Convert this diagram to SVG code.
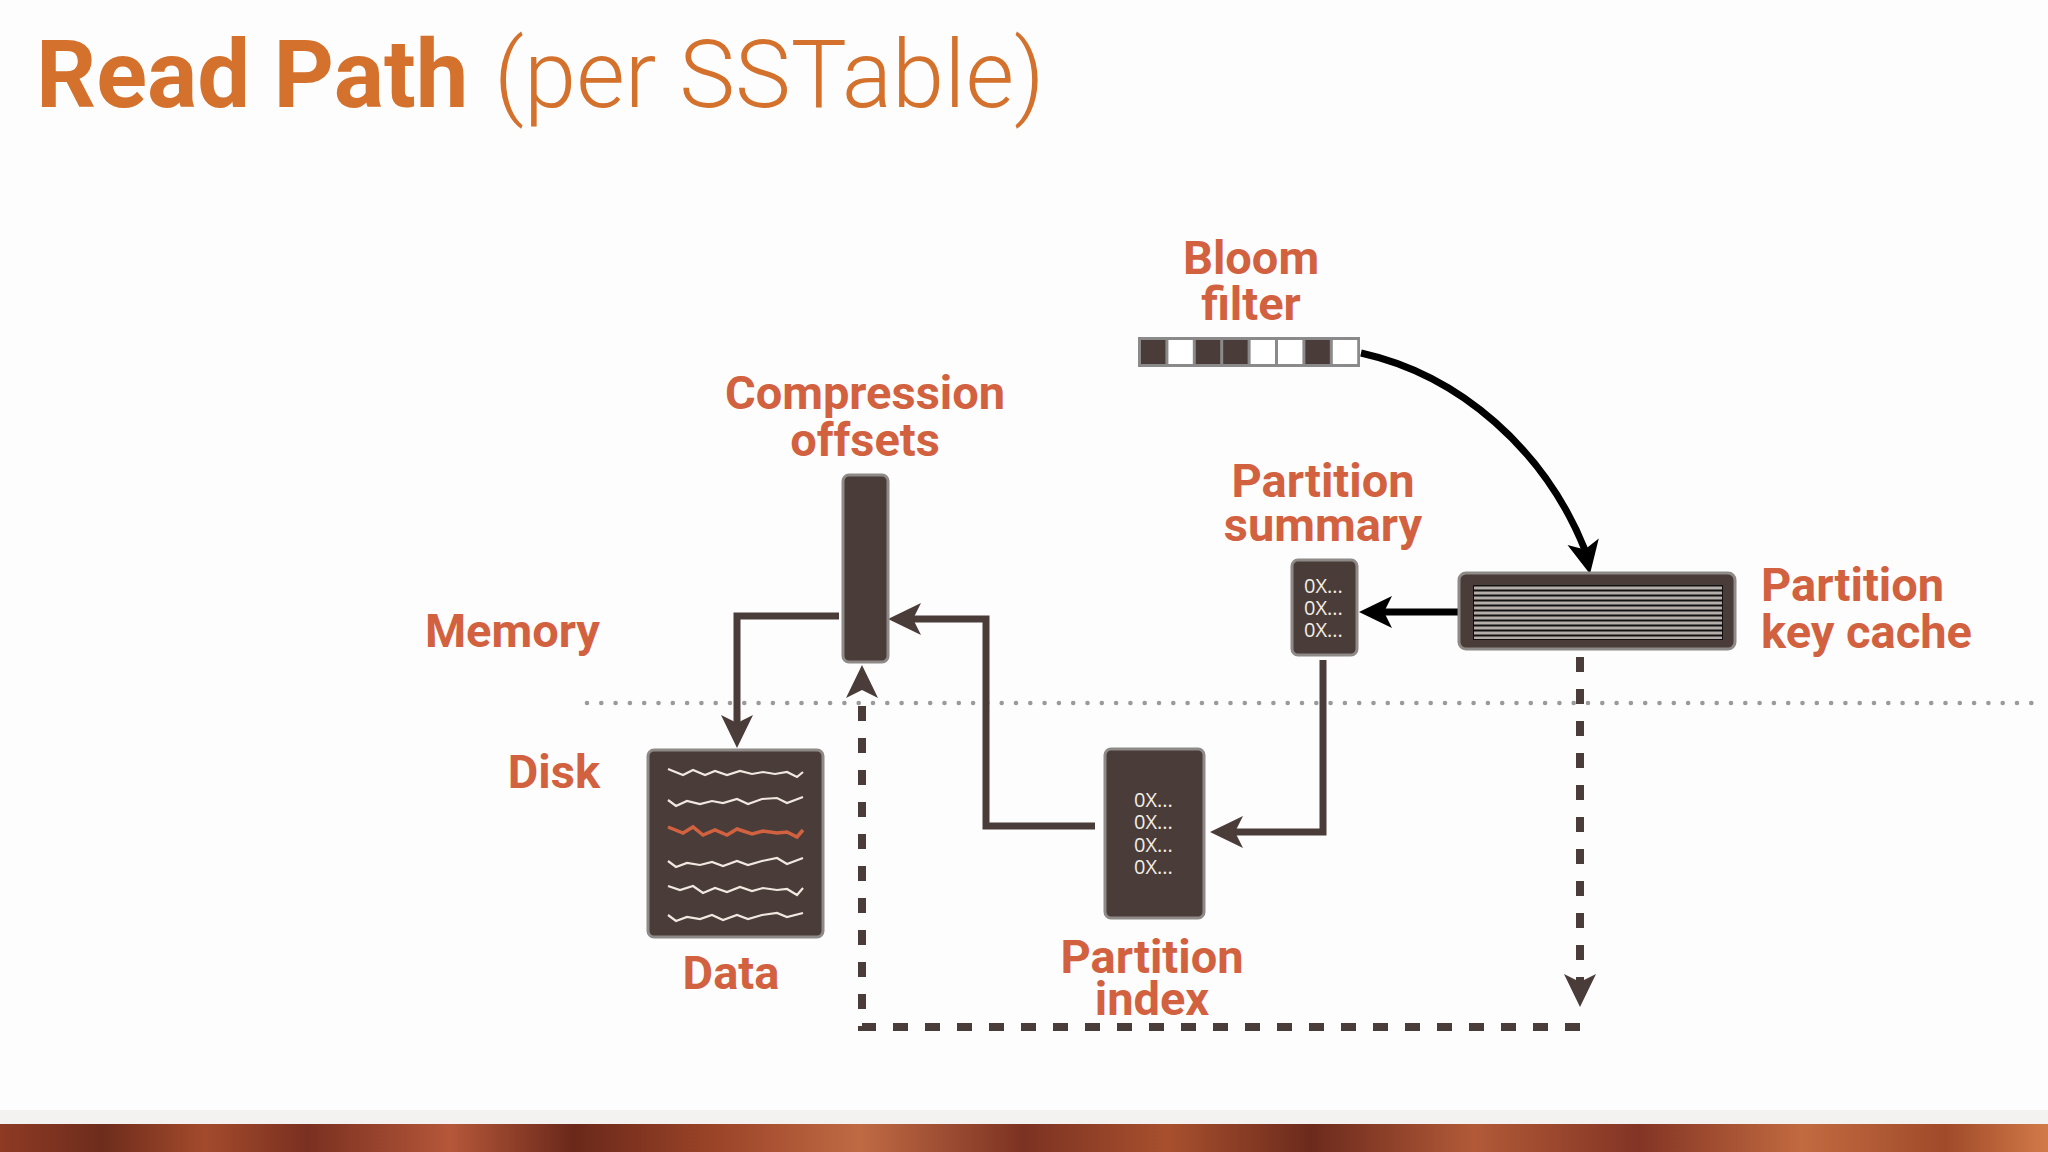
<svg xmlns="http://www.w3.org/2000/svg" xmlns:xlink="http://www.w3.org/1999/xlink" width="2048" height="1152" viewBox="0 0 2048 1152">
<defs>
<style>
.title{font-family:Roboto,"Liberation Sans",sans-serif;fill:#d3712d;font-size:94px}
.lbl{font-family:Roboto,"Liberation Sans",sans-serif;font-weight:700;fill:#d2613f;font-size:47px}
.box{fill:#4a3c38;stroke:#8d8a87;stroke-width:3}
.hex{font-family:"Open Sans","Noto Sans",sans-serif;fill:#f3ede6;font-size:20px}
.cn{fill:none;stroke:#4a3c38;stroke-width:7;stroke-linejoin:miter}
.blk{fill:none;stroke:#000;stroke-width:7}
.dash{fill:none;stroke:#4a3c38;stroke-width:8;stroke-dasharray:15 17}
.zz{fill:none;stroke:#f1e9e1;stroke-width:2.2;stroke-linejoin:miter}
.zz.hot{stroke:#d2613f;stroke-width:3.5}
</style>
<path id="ah" d="M0,0 L-33,-16 L-25,0 L-33,16 Z"/>
<linearGradient id="wood" x1="0" y1="0" x2="1" y2="0">
<stop offset="0" stop-color="#8e3a24"/><stop offset="0.05" stop-color="#6e2c1c"/><stop offset="0.1" stop-color="#a34a2c"/>
<stop offset="0.15" stop-color="#7a3020"/><stop offset="0.22" stop-color="#b5573a"/><stop offset="0.28" stop-color="#6a281a"/>
<stop offset="0.35" stop-color="#9c4428"/><stop offset="0.42" stop-color="#c06a44"/><stop offset="0.5" stop-color="#7c3222"/>
<stop offset="0.57" stop-color="#a8502e"/><stop offset="0.64" stop-color="#6c2a1c"/><stop offset="0.72" stop-color="#b25a38"/>
<stop offset="0.8" stop-color="#833424"/><stop offset="0.88" stop-color="#c26a40"/><stop offset="0.95" stop-color="#a04a2a"/><stop offset="1" stop-color="#d27a48"/>
</linearGradient>
</defs>
<rect width="2048" height="1152" fill="#fdfdfd"/>
<rect x="0" y="1110" width="2048" height="14" fill="#f4f2f1"/>
<rect x="0" y="1124" width="2048" height="28" fill="url(#wood)"/>

<g id="title">
<text class="title" x="36" y="107" font-weight="700">Read Path</text>
<text class="title" x="494" y="107" font-weight="300">(per SSTable)</text>
</g>

<g id="layers">
<line x1="587" y1="703" x2="2032" y2="703" stroke="#9a9a9a" stroke-width="4.6" stroke-linecap="round" stroke-dasharray="0 14.3"/>
<text class="lbl" x="600" y="647" text-anchor="end">Memory</text>
<text class="lbl" x="600" y="788" text-anchor="end">Disk</text>
</g>

<g id="connectors">
<path class="blk" d="M1361,353 C1460,375 1545,450 1585,550"/>
<use xlink:href="#ah" href="#ah" transform="translate(1590,574) rotate(78)" fill="#000"/>
<path class="blk" d="M1459,612 H1382"/>
<use xlink:href="#ah" href="#ah" transform="translate(1359,612) rotate(180)" fill="#000"/>
<path class="cn" d="M1323,660 V832 H1234"/>
<use xlink:href="#ah" href="#ah" transform="translate(1210,832) rotate(180)" fill="#4a3c38"/>
<path class="cn" d="M1095,826 H986 V619 H912"/>
<use xlink:href="#ah" href="#ah" transform="translate(888,619) rotate(180)" fill="#4a3c38"/>
<path class="cn" d="M839,616 H737 V724"/>
<use xlink:href="#ah" href="#ah" transform="translate(737,748) rotate(90)" fill="#4a3c38"/>
<path class="dash" d="M1580,657 V985"/>
<use xlink:href="#ah" href="#ah" transform="translate(1580,1007) rotate(90)" fill="#4a3c38"/>
<path class="dash" d="M1580,1027 H862 V692"/>
<use xlink:href="#ah" href="#ah" transform="translate(862,665) rotate(-90)" fill="#4a3c38"/>
</g>

<g id="bloom-filter">
<rect x="1138" y="337" width="222" height="30" fill="#8a8a8a"/>
<rect x="1141" y="340" width="24.4" height="24" fill="#4a3c38"/>
<rect x="1168.4" y="340" width="24.4" height="24" fill="#fff"/>
<rect x="1195.8" y="340" width="24.4" height="24" fill="#4a3c38"/>
<rect x="1223.2" y="340" width="24.4" height="24" fill="#4a3c38"/>
<rect x="1250.6" y="340" width="24.4" height="24" fill="#fff"/>
<rect x="1278" y="340" width="24.4" height="24" fill="#fff"/>
<rect x="1305.4" y="340" width="24.4" height="24" fill="#4a3c38"/>
<rect x="1332.8" y="340" width="24.4" height="24" fill="#fff"/>
<text class="lbl" x="1251" y="274" text-anchor="middle">Bloom</text>
<text class="lbl" x="1251" y="320" text-anchor="middle">filter</text>
</g>

<g id="partition-key-cache">
<rect class="box" x="1459" y="573" width="276" height="76" rx="7"/>
<rect x="1473" y="585" width="250" height="55" fill="#111"/>
<g fill="#b3aeaa">
<rect x="1474" y="586.5" width="248" height="3"/><rect x="1474" y="591.5" width="248" height="3"/>
<rect x="1474" y="596.5" width="248" height="3"/><rect x="1474" y="601.5" width="248" height="3"/>
<rect x="1474" y="606.5" width="248" height="3"/><rect x="1474" y="611.5" width="248" height="3"/>
<rect x="1474" y="616.5" width="248" height="3"/><rect x="1474" y="621.5" width="248" height="3"/>
<rect x="1474" y="626.5" width="248" height="3"/><rect x="1474" y="631.5" width="248" height="3"/>
<rect x="1474" y="636.5" width="248" height="2.5"/>
</g>
<text class="lbl" x="1761" y="601">Partition</text>
<text class="lbl" x="1761" y="648">key cache</text>
</g>

<g id="partition-summary">
<rect class="box" x="1292" y="560" width="65" height="95" rx="6"/>
<text class="hex" x="1304" y="593">0X...</text>
<text class="hex" x="1304" y="615">0X...</text>
<text class="hex" x="1304" y="637">0X...</text>
<text class="lbl" x="1323" y="497" text-anchor="middle">Partition</text>
<text class="lbl" x="1323" y="541" text-anchor="middle">summary</text>
</g>

<g id="partition-index">
<rect class="box" x="1105" y="749" width="99" height="169" rx="6"/>
<text class="hex" x="1134" y="807">0X...</text>
<text class="hex" x="1134" y="829">0X...</text>
<text class="hex" x="1134" y="852">0X...</text>
<text class="hex" x="1134" y="874">0X...</text>
<text class="lbl" x="1152" y="973" text-anchor="middle">Partition</text>
<text class="lbl" x="1152" y="1015" text-anchor="middle">index</text>
</g>

<g id="compression-offsets">
<rect class="box" x="843" y="475" width="45" height="187" rx="6"/>
<text class="lbl" x="865" y="409" text-anchor="middle">Compression</text>
<text class="lbl" x="865" y="456" text-anchor="middle">offsets</text>
</g>

<g id="data">
<rect class="box" x="648" y="750" width="175" height="187" rx="6"/>
<polyline class="zz" points="668,769 683,775 693,770 705,775 715,771 727,775 740,771 752,774 763,772 775,774 787,772 797,777 803,772"/>
<polyline class="zz" points="668,800 676,806 687,801 700,804 712,801 723,803 737,799 748,804 762,799 777,798 787,803 803,797"/>
<polyline class="zz hot" points="668,827 683,833 693,827 703,835 715,830 727,835 737,829 752,834 763,831 777,833 787,832 797,837 803,830"/>
<polyline class="zz" points="668,861 676,867 687,863 700,865 712,862 723,866 737,861 748,865 762,861 777,858 787,864 803,858"/>
<polyline class="zz" points="668,886 680,890 693,886 703,893 715,888 727,892 740,887 752,891 763,888 777,890 787,889 797,895 803,888"/>
<polyline class="zz" points="668,915 676,921 687,917 700,919 712,915 723,920 737,915 748,919 762,915 777,913 787,917 803,913"/>
<text class="lbl" x="731" y="989" text-anchor="middle">Data</text>
</g>
</svg>
